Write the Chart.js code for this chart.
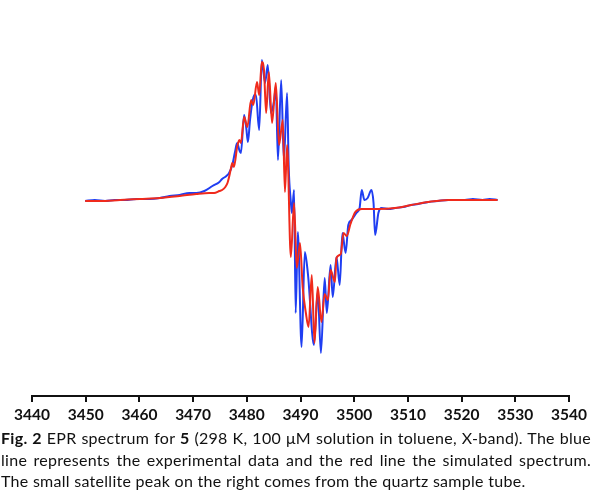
<!DOCTYPE html>
<html>
<head>
<meta charset="utf-8">
<script src="https://cdn.jsdelivr.net/npm/chart.js@4.4.1/dist/chart.umd.min.js"></script>
<style>
  html, body { margin: 0; padding: 0; background: #fff; overflow: hidden; }
  body { width: 591px; height: 501px; position: relative; }
  #chart-box { position: absolute; left: 0; top: 0; width: 591px; height: 430px; }
  .caption { position: absolute; left: 1px; top: 427px; width: 590px;
    font-family: Lato, "Open Sans", sans-serif; font-size: 16px; letter-spacing: 0.28px;
    line-height: 21.5px; color: #111; }
  .caption div { white-space: nowrap; }
  .caption .just { text-align: justify; text-align-last: justify; white-space: normal; }
</style>
</head>
<body>
<div id="chart-box"><canvas id="epr-chart"></canvas></div>
<div class="caption">
  <div class="just"><b>Fig. 2</b> EPR spectrum for <b>5</b> (298 K, 100 μM solution in toluene, X-band). The blue</div>
  <div class="just">line represents the experimental data and the red line the simulated spectrum.</div>
  <div>The small satellite peak on the right comes from the quartz sample tube.</div>
</div>
<script>
// field axis (G)
const fieldTicks = [3440, 3450, 3460, 3470, 3480, 3490, 3500, 3510, 3520, 3530, 3540];

// experimental spectrum (blue), field in G, signal in arbitrary units
const expField = [
  3449.9, 3451.7, 3453.6, 3455.4, 3457.3, 3459.5, 3461.9, 3463.8, 3465.6, 3467.5,
  3469.3, 3470.6, 3472.1, 3473.6, 3474.9, 3475.4, 3476.2, 3476.7, 3477.3, 3477.8,
  3478.2, 3478.6, 3478.9, 3479.5, 3479.9, 3480.2, 3480.6, 3481.0, 3481.4, 3481.7,
  3482.3, 3482.8, 3483.4, 3483.9, 3484.5, 3485.1, 3485.4, 3485.8, 3486.4, 3486.9,
  3487.5, 3487.8, 3488.2, 3488.4, 3488.8, 3489.1, 3489.5, 3490.2, 3490.8, 3491.4,
  3492.5, 3493.2, 3493.8, 3494.5, 3494.9, 3495.6, 3496.0, 3496.7, 3497.3, 3497.8,
  3498.4, 3498.9, 3499.5, 3500.4, 3501.0, 3501.4, 3501.9, 3502.5, 3503.2, 3503.6,
  3503.9, 3504.5, 3505.1, 3506.4, 3507.6, 3509.1, 3510.6, 3511.9, 3513.8, 3515.6,
  3517.5, 3519.3, 3520.6, 3522.1, 3523.9, 3525.2, 3526.7
];
const expSignal = [
  -1, 0, -1, 0, 0, 1, 1, 2, 4, 5,
  7, 7, 9, 14, 18, 21, 24, 27, 35, 48,
  57, 50, 47, 85, 72, 58, 80, 97, 105, 105,
  70, 140, 117, 135, 87, 100, 113, 40, 120, 40,
  107, 33, -2, -13, 10, -113, -32, -147, -52, -75,
  -145, -92, -153, -78, -113, -65, -97, -57, -85, -33,
  -53, -25, -20, -13, -8, 10, 0, 2, 10, -3,
  -35, -13, -8, -9, -8, -7, -5, -4, -2, -1,
  0, 0, 0, 1, 0, 1, 0
];

// simulated spectrum (red)
const simField = [
  3449.9, 3452.6, 3456.4, 3460.1, 3463.8, 3467.5, 3470.6, 3473.0, 3473.9, 3474.9,
  3475.4, 3476.0, 3476.4, 3476.7, 3477.1, 3477.3, 3477.6, 3478.2, 3478.6, 3478.9,
  3479.5, 3480.1, 3480.8, 3481.2, 3481.9, 3482.3, 3482.8, 3483.2, 3483.6, 3484.1,
  3484.7, 3485.4, 3486.0, 3486.7, 3487.1, 3487.5, 3488.2, 3488.8, 3489.3, 3489.9,
  3490.4, 3491.0, 3491.5, 3492.1, 3492.6, 3493.2, 3493.9, 3494.5, 3495.1, 3495.6,
  3496.4, 3496.7, 3497.5, 3498.0, 3498.6, 3499.3, 3500.2, 3501.4, 3502.6, 3504.5,
  3507.6, 3510.6, 3513.8, 3517.5, 3521.2, 3526.7
];
const simSignal = [
  -1, -1, 0, 1, 2, 4, 6, 7, 7, 9,
  10, 13, 17, 23, 33, 37, 33, 53, 60, 57,
  83, 73, 100, 95, 118, 105, 138, 130, 87, 128,
  77, 117, 55, 80, 8, 55, -57, -3, -68, -43,
  -87, -113, -127, -75, -143, -87, -122, -94, -100, -70,
  -82, -58, -54, -33, -36, -24, -12, -9, -9, -9,
  -8, -5, -2, 0, 0, 0
];

function toPoints(xs, ys) {
  return xs.map((x, i) => ({ x: x, y: ys[i] }));
}

const ctx = document.querySelector('#epr-chart').getContext('2d');
new Chart(ctx, {
  type: 'line',
  data: {
    datasets: [
      {
        label: 'Simulated',
        data: toPoints(simField, simSignal),
        borderColor: '#f02a1c',
        borderWidth: 2,
        pointRadius: 0,
        cubicInterpolationMode: 'monotone',
        order: 0
      },
      {
        label: 'Experimental',
        data: toPoints(expField, expSignal),
        borderColor: '#1f3ef2',
        borderWidth: 2,
        pointRadius: 0,
        cubicInterpolationMode: 'monotone',
        order: 1
      }
    ]
  },
  options: {
    responsive: true,
    maintainAspectRatio: false,
    animation: false,
    layout: { padding: { left: 32, right: 19, top: 40, bottom: 0 } },
    plugins: { legend: { display: false }, tooltip: { enabled: false } },
    scales: {
      x: {
        type: 'linear',
        min: 3440,
        max: 3540,
        afterBuildTicks: (s) => { s.ticks = fieldTicks.map(v => ({ value: v })); },
        afterFit: (s) => { s.height = 34; },
        border: { display: true, color: '#111', width: 2 },
        grid: { drawOnChartArea: false, drawTicks: true, tickLength: 6, color: '#111', lineWidth: 2 },
        ticks: {
          padding: 4,
          maxRotation: 0,
          color: '#111',
          callback: (v) => String(v),
          font: { family: 'Lato, "Open Sans", sans-serif', size: 15.5, weight: 'bold' }
        }
      },
      y: {
        display: false,
        min: -196,
        max: 160
      }
    }
  }
});
</script>
</body>
</html>
